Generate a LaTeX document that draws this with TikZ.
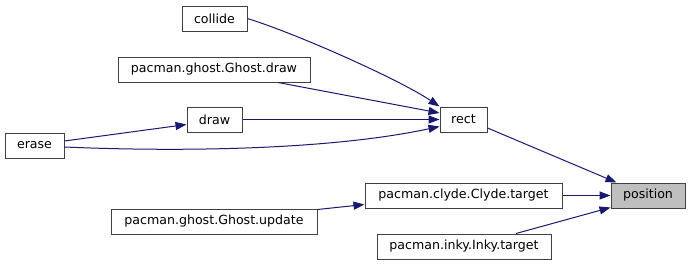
\documentclass[tikz,border=0pt]{standalone}
\usepackage{fontspec}
\setmainfont{DejaVu Sans}
\usetikzlibrary{arrows.meta}
\definecolor{edgeblue}{HTML}{191970}
\definecolor{boxline}{HTML}{404040}
\definecolor{hilite}{HTML}{BFBFBF}
\begin{document}
\begin{tikzpicture}[x=1pt,y=-1pt,
  fn/.style={draw=boxline,line width=1pt,fill=white,inner sep=0pt,
    minimum height=25pt,font=\fontsize{12.6}{15}\selectfont,text=black},
  call/.style={draw=edgeblue,line width=1pt,
    -{Triangle[length=11pt,width=8pt]},edgeblue}]
\useasboundingbox (0,0) rectangle (691,265);
% functions
\node[fn,minimum width=65pt]  (collide)  at (214.5,18.5)  {collide};
\node[fn,minimum width=192pt] (gdraw)    at (214,69.5)    {pacman.ghost.Ghost.draw};
\node[fn,minimum width=55pt]  (draw)     at (214.5,119.5) {draw};
\node[fn,minimum width=59pt]  (erase)    at (34.5,145.5)  {erase};
\node[fn,minimum width=206pt] (update)   at (214,221.5)   {pacman.ghost.Ghost.update};
\node[fn,minimum width=47pt]  (rect)     at (463.5,119.5) {rect};
\node[fn,minimum width=197pt] (clyde)    at (463.5,195.5) {pacman.clyde.Clyde.target};
\node[fn,minimum width=174pt] (inky)     at (464,246.5)   {pacman.inky.Inky.target};
\node[fn,minimum width=74pt,fill=hilite] (position) at (648,195.5) {position};
% calls
\draw[call] (collide.east) .. controls (300,35) and (400,80) .. (rect.north west);
\draw[call] ([xshift=64pt]gdraw.south) -- ([yshift=6.5pt]rect.west);
\draw[call] (draw.east) -- (rect.west);
\draw[call] ([yshift=-1.5pt]erase.east) .. controls (180,152) and (330,150) .. ([yshift=-7pt]rect.west);
\draw[call] ([yshift=4.5pt]erase.east) -- ([yshift=-5pt]draw.west);
\draw[call] ([yshift=-8.5pt]rect.east) -- ([xshift=6pt]position.north west);
\draw[call] (clyde.east) -- (position.west);
\draw[call] ([xshift=52pt]inky.north) -- ([yshift=1pt]position.south west);
\draw[call] ([yshift=-1pt]update.north east) -- ([yshift=-9pt]clyde.west);
\end{tikzpicture}
\end{document}
